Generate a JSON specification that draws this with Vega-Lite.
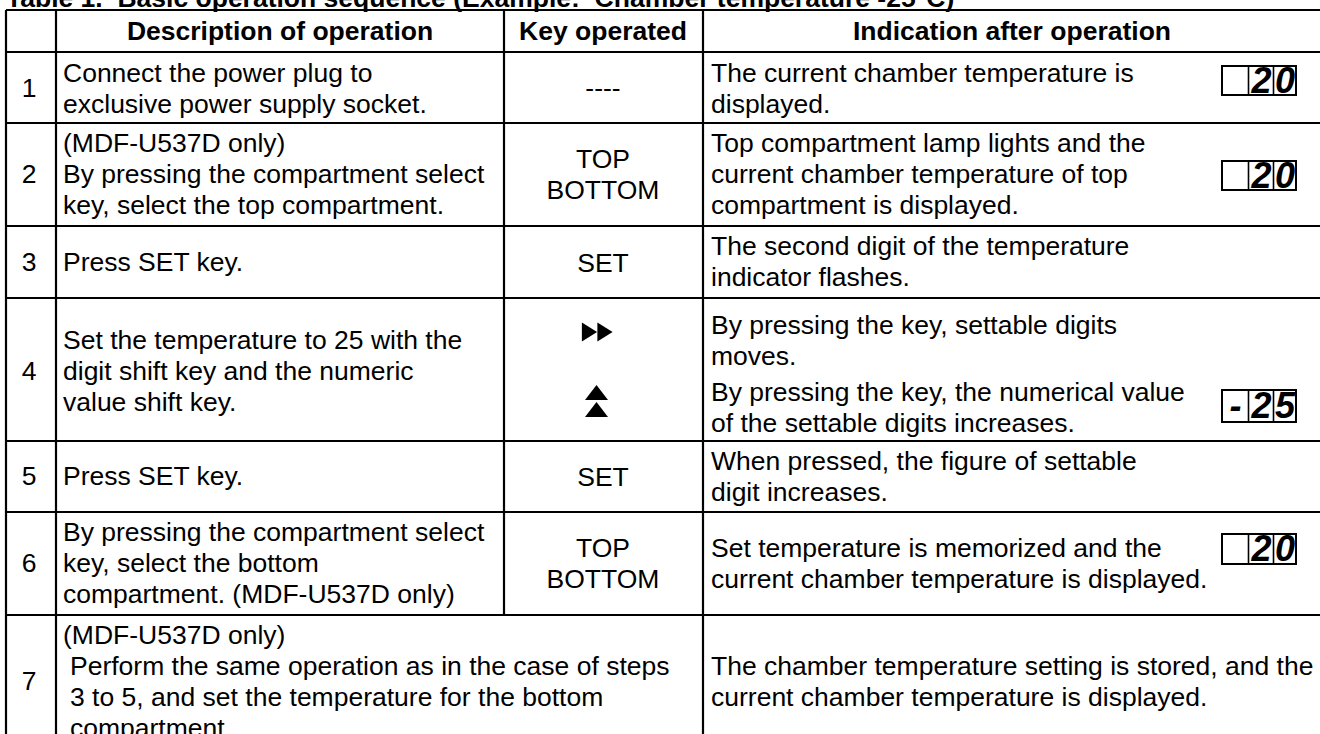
{
  "$schema": "https://vega.github.io/schema/vega-lite/v6.json",
  "width": 1320,
  "height": 734,
  "padding": 0,
  "autosize": {"type": "none"},
  "background": "white",
  "config": {"view": {"stroke": null}},
  "datasets": {
    "hl": [
      {"y": 10, "x1": 6, "x2": 1320},
      {"y": 52, "x1": 6, "x2": 1320},
      {"y": 123, "x1": 6, "x2": 1320},
      {"y": 226, "x1": 6, "x2": 1320},
      {"y": 298, "x1": 6, "x2": 1320},
      {"y": 441, "x1": 6, "x2": 1320},
      {"y": 512, "x1": 6, "x2": 1320},
      {"y": 615, "x1": 6, "x2": 1320}
    ],
    "vl": [
      {"x": 6, "y1": 10, "y2": 760},
      {"x": 56, "y1": 10, "y2": 760},
      {"x": 504, "y1": 10, "y2": 615},
      {"x": 703, "y1": 10, "y2": 760}
    ],
    "cols": [
      {"col": "title", "x": 6},
      {"col": "num", "x": 29},
      {"col": "desc", "x": 63},
      {"col": "desc7", "x": 70},
      {"col": "key", "x": 603},
      {"col": "ind", "x": 711},
      {"col": "hdesc", "x": 280},
      {"col": "hkey", "x": 603},
      {"col": "hind", "x": 1012}
    ],
    "cells": [
      {"col": "title", "y": 7, "text": "Table 1.\u00a0 Basic operation sequence (Example:\u00a0 Chamber temperature -25°C)"},
      {"col": "hdesc", "y": 31.5, "text": "Description of operation"},
      {"col": "hkey", "y": 31.5, "text": "Key operated"},
      {"col": "hind", "y": 31.5, "text": "Indication after operation"},

      {"col": "num", "y": 89, "text": "1"},
      {"col": "desc", "y": 74, "text": "Connect the power plug to"},
      {"col": "desc", "y": 105, "text": "exclusive power supply socket."},
      {"col": "key", "y": 89, "text": "----"},
      {"col": "ind", "y": 74, "text": "The current chamber temperature is"},
      {"col": "ind", "y": 105, "text": "displayed."},

      {"col": "num", "y": 175, "text": "2"},
      {"col": "desc", "y": 144, "text": "(MDF-U537D only)"},
      {"col": "desc", "y": 175, "text": "By pressing the compartment select"},
      {"col": "desc", "y": 206, "text": "key, select the top compartment."},
      {"col": "key", "y": 160, "text": "TOP"},
      {"col": "key", "y": 191, "text": "BOTTOM"},
      {"col": "ind", "y": 144, "text": "Top compartment lamp lights and the"},
      {"col": "ind", "y": 175, "text": "current chamber temperature of top"},
      {"col": "ind", "y": 206, "text": "compartment is displayed."},

      {"col": "num", "y": 263, "text": "3"},
      {"col": "desc", "y": 263, "text": "Press SET key."},
      {"col": "key", "y": 264, "text": "SET"},
      {"col": "ind", "y": 247, "text": "The second digit of the temperature"},
      {"col": "ind", "y": 278, "text": "indicator flashes."},

      {"col": "num", "y": 372, "text": "4"},
      {"col": "desc", "y": 341, "text": "Set the temperature to 25 with the"},
      {"col": "desc", "y": 372, "text": "digit shift key and the numeric"},
      {"col": "desc", "y": 403, "text": "value shift key."},
      {"col": "ind", "y": 326, "text": "By pressing the key, settable digits"},
      {"col": "ind", "y": 357, "text": "moves."},
      {"col": "ind", "y": 393, "text": "By pressing the key, the numerical value"},
      {"col": "ind", "y": 424, "text": "of the settable digits increases."},

      {"col": "num", "y": 477, "text": "5"},
      {"col": "desc", "y": 477, "text": "Press SET key."},
      {"col": "key", "y": 478, "text": "SET"},
      {"col": "ind", "y": 462, "text": "When pressed, the figure of settable"},
      {"col": "ind", "y": 493, "text": "digit increases."},

      {"col": "num", "y": 564, "text": "6"},
      {"col": "desc", "y": 533, "text": "By pressing the compartment select"},
      {"col": "desc", "y": 564, "text": "key, select the bottom"},
      {"col": "desc", "y": 595, "text": "compartment. (MDF-U537D only)"},
      {"col": "key", "y": 549, "text": "TOP"},
      {"col": "key", "y": 580, "text": "BOTTOM"},
      {"col": "ind", "y": 549, "text": "Set temperature is memorized and the"},
      {"col": "ind", "y": 580, "text": "current chamber temperature is displayed."},

      {"col": "num", "y": 682, "text": "7"},
      {"col": "desc", "y": 636, "text": "(MDF-U537D only)"},
      {"col": "desc7", "y": 667, "text": "Perform the same operation as in the case of steps"},
      {"col": "desc7", "y": 698, "text": "3 to 5, and set the temperature for the bottom"},
      {"col": "desc7", "y": 729, "text": "compartment."},
      {"col": "ind", "y": 667, "text": "The chamber temperature setting is stored, and the"},
      {"col": "ind", "y": 698, "text": "current chamber temperature is displayed."}
    ],
    "boxes": [
      {"x1": 1222, "x2": 1296, "y1": 66, "y2": 95},
      {"x1": 1222, "x2": 1296, "y1": 161, "y2": 190},
      {"x1": 1222, "x2": 1296, "y1": 390, "y2": 422},
      {"x1": 1222, "x2": 1296, "y1": 534, "y2": 564}
    ],
    "dividers": [
      {"x": 1248.5, "y1": 66, "y2": 95}, {"x": 1273.5, "y1": 66, "y2": 95},
      {"x": 1248.5, "y1": 161, "y2": 190}, {"x": 1273.5, "y1": 161, "y2": 190},
      {"x": 1248.5, "y1": 390, "y2": 422}, {"x": 1273.5, "y1": 390, "y2": 422},
      {"x": 1248.5, "y1": 534, "y2": 564}, {"x": 1273.5, "y1": 534, "y2": 564}
    ],
    "digits": [
      {"x": 1261.5, "y": 81.5, "ch": "2"}, {"x": 1285, "y": 81.5, "ch": "0"},
      {"x": 1261.5, "y": 176.5, "ch": "2"}, {"x": 1285, "y": 176.5, "ch": "0"},
      {"x": 1235.5, "y": 407, "ch": "-"}, {"x": 1261.5, "y": 407, "ch": "2"}, {"x": 1285, "y": 407, "ch": "5"},
      {"x": 1261.5, "y": 550, "ch": "2"}, {"x": 1285, "y": 550, "ch": "0"}
    ],
    "rightTri": [
      {"x": 589.5, "y": 332},
      {"x": 605, "y": 332}
    ],
    "upTri": [
      {"x": 596.5, "y": 392.5},
      {"x": 596.5, "y": 409.5}
    ]
  },
  "layer": [
    {
      "data": {"name": "hl"},
      "mark": {"type": "rule", "color": "black", "strokeWidth": 2.2, "clip": true},
      "encoding": {
        "x": {"field": "x1", "type": "quantitative", "scale": {"domain": [0, 1320], "nice": false, "zero": false}, "axis": null},
        "x2": {"field": "x2"},
        "y": {"field": "y", "type": "quantitative", "scale": {"domain": [0, 734], "nice": false, "zero": false, "reverse": true}, "axis": null}
      }
    },
    {
      "data": {"name": "vl"},
      "mark": {"type": "rule", "color": "black", "strokeWidth": 2.2, "clip": true},
      "encoding": {
        "x": {"field": "x", "type": "quantitative", "scale": {"domain": [0, 1320], "nice": false, "zero": false}, "axis": null},
        "y": {"field": "y1", "type": "quantitative", "scale": {"domain": [0, 734], "nice": false, "zero": false, "reverse": true}, "axis": null},
        "y2": {"field": "y2"}
      }
    },
    {
      "data": {"name": "cells"},
      "transform": [
        {"filter": {"field": "col", "equal": "title"}},
        {"lookup": "col", "from": {"data": {"name": "cols"}, "key": "col", "fields": ["x"]}}
      ],
      "mark": {"type": "text", "align": "left", "baseline": "alphabetic", "font": "Liberation Sans", "fontWeight": "bold", "fontSize": 26.5, "color": "black", "clip": true},
      "encoding": {
        "x": {"field": "x", "type": "quantitative", "scale": {"domain": [0, 1320], "nice": false, "zero": false}, "axis": null},
        "y": {"field": "y", "type": "quantitative", "scale": {"domain": [0, 734], "nice": false, "zero": false, "reverse": true}, "axis": null},
        "text": {"field": "text"}
      }
    },
    {
      "data": {"name": "cells"},
      "transform": [
        {"filter": {"field": "col", "oneOf": ["hdesc", "hkey", "hind"]}},
        {"lookup": "col", "from": {"data": {"name": "cols"}, "key": "col", "fields": ["x"]}}
      ],
      "mark": {"type": "text", "align": "center", "baseline": "middle", "font": "Liberation Sans", "fontWeight": "bold", "fontSize": 26.5, "color": "black", "clip": true},
      "encoding": {
        "x": {"field": "x", "type": "quantitative", "scale": {"domain": [0, 1320], "nice": false, "zero": false}, "axis": null},
        "y": {"field": "y", "type": "quantitative", "scale": {"domain": [0, 734], "nice": false, "zero": false, "reverse": true}, "axis": null},
        "text": {"field": "text"}
      }
    },
    {
      "data": {"name": "cells"},
      "transform": [
        {"filter": {"field": "col", "oneOf": ["desc", "desc7", "ind"]}},
        {"lookup": "col", "from": {"data": {"name": "cols"}, "key": "col", "fields": ["x"]}}
      ],
      "mark": {"type": "text", "align": "left", "baseline": "middle", "font": "Liberation Sans", "fontSize": 26.5, "color": "black", "clip": true},
      "encoding": {
        "x": {"field": "x", "type": "quantitative", "scale": {"domain": [0, 1320], "nice": false, "zero": false}, "axis": null},
        "y": {"field": "y", "type": "quantitative", "scale": {"domain": [0, 734], "nice": false, "zero": false, "reverse": true}, "axis": null},
        "text": {"field": "text"}
      }
    },
    {
      "data": {"name": "cells"},
      "transform": [
        {"filter": {"field": "col", "oneOf": ["num", "key"]}},
        {"lookup": "col", "from": {"data": {"name": "cols"}, "key": "col", "fields": ["x"]}}
      ],
      "mark": {"type": "text", "align": "center", "baseline": "middle", "font": "Liberation Sans", "fontSize": 26.5, "color": "black", "clip": true},
      "encoding": {
        "x": {"field": "x", "type": "quantitative", "scale": {"domain": [0, 1320], "nice": false, "zero": false}, "axis": null},
        "y": {"field": "y", "type": "quantitative", "scale": {"domain": [0, 734], "nice": false, "zero": false, "reverse": true}, "axis": null},
        "text": {"field": "text"}
      }
    },
    {
      "data": {"name": "boxes"},
      "mark": {"type": "rect", "fill": "white", "stroke": "black", "strokeWidth": 2, "clip": true},
      "encoding": {
        "x": {"field": "x1", "type": "quantitative", "scale": {"domain": [0, 1320], "nice": false, "zero": false}, "axis": null},
        "x2": {"field": "x2"},
        "y": {"field": "y1", "type": "quantitative", "scale": {"domain": [0, 734], "nice": false, "zero": false, "reverse": true}, "axis": null},
        "y2": {"field": "y2"}
      }
    },
    {
      "data": {"name": "dividers"},
      "mark": {"type": "rule", "color": "black", "strokeWidth": 1.6, "clip": true},
      "encoding": {
        "x": {"field": "x", "type": "quantitative", "scale": {"domain": [0, 1320], "nice": false, "zero": false}, "axis": null},
        "y": {"field": "y1", "type": "quantitative", "scale": {"domain": [0, 734], "nice": false, "zero": false, "reverse": true}, "axis": null},
        "y2": {"field": "y2"}
      }
    },
    {
      "data": {"name": "digits"},
      "mark": {"type": "text", "align": "center", "baseline": "middle", "font": "Liberation Sans", "fontWeight": "bold", "fontStyle": "italic", "fontSize": 36, "color": "black", "clip": true},
      "encoding": {
        "x": {"field": "x", "type": "quantitative", "scale": {"domain": [0, 1320], "nice": false, "zero": false}, "axis": null},
        "y": {"field": "y", "type": "quantitative", "scale": {"domain": [0, 734], "nice": false, "zero": false, "reverse": true}, "axis": null},
        "text": {"field": "ch"}
      }
    },
    {
      "data": {"name": "rightTri"},
      "mark": {"type": "point", "shape": "M-0.8,-1L0.8,0L-0.8,1Z", "filled": true, "color": "black", "opacity": 1, "size": 361, "strokeWidth": 0},
      "encoding": {
        "x": {"field": "x", "type": "quantitative", "scale": {"domain": [0, 1320], "nice": false, "zero": false}, "axis": null},
        "y": {"field": "y", "type": "quantitative", "scale": {"domain": [0, 734], "nice": false, "zero": false, "reverse": true}, "axis": null}
      }
    },
    {
      "data": {"name": "upTri"},
      "mark": {"type": "point", "shape": "M-1,0.65L1,0.65L0,-0.65Z", "filled": true, "color": "black", "opacity": 1, "size": 529, "strokeWidth": 0},
      "encoding": {
        "x": {"field": "x", "type": "quantitative", "scale": {"domain": [0, 1320], "nice": false, "zero": false}, "axis": null},
        "y": {"field": "y", "type": "quantitative", "scale": {"domain": [0, 734], "nice": false, "zero": false, "reverse": true}, "axis": null}
      }
    }
  ]
}
